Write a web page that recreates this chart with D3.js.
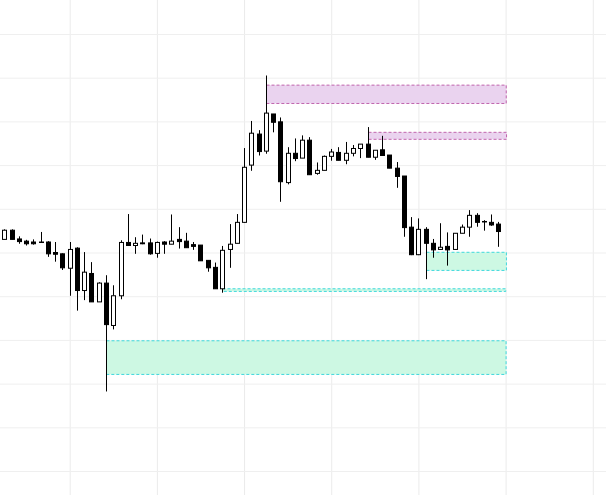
<!DOCTYPE html>
<html>
<head>
<meta charset="utf-8">
<script src="https://cdn.jsdelivr.net/npm/d3@7"></script>
<style>
  html, body { margin: 0; padding: 0; background: #fff; }
  svg { display: block; }
</style>
</head>
<body>
<div id="app"></div>
<script>
// ----- Data -----
const startTime = "2024-03-04T15:00:00Z";   // first candle, hourly bars
const opens  = [103.0,105.1,103.1,102.6,102.4,102.3,102.4,100.0,99.7,96.4,101.0,91.3,95.2,88.7,93.0,83.3,90.1,102.3,101.6,102.2,
                102.2,99.8,102.4,101.9,103.0,102.6,101.8,101.7,98.2,96.6,91.7,100.7,102.1,106.9,120.0,127.1,123.2,131.7,129.9,116.0,
                122.7,121.6,125.7,118.1,118.8,122.0,122.9,121.1,122.7,123.8,124.8,121.8,123.5,122.3,119.3,117.5,105.8,99.5,105.3,102.1,
                100.7,101.4,100.7,104.4,105.8,108.5,107.1,106.9,106.5];
const highs  = [105.3,105.3,103.7,102.9,103.0,104.7,102.6,102.4,99.8,102.4,101.2,100.1,97.8,93.2,94.8,92.5,102.8,108.8,103.5,104.1,
                103.2,102.5,102.6,108.7,105.8,104.5,102.4,101.7,98.2,97.7,101.5,106.5,108.8,123.9,130.1,128.0,140.5,131.7,130.9,124.1,
                126.1,126.8,126.4,120.6,122.2,123.7,124.1,125.3,124.6,124.8,128.7,123.4,126.7,122.3,120.7,117.5,108.1,107.8,105.8,103.1,
                106.7,104.6,104.4,106.4,109.7,109.0,107.4,108.7,107.0];
const lows   = [103.0,103.0,102.0,101.6,101.8,102.3,99.0,97.9,96.0,90.1,86.7,89.1,88.7,88.7,68.2,82.4,89.3,101.6,99.7,101.9,
                99.5,98.8,99.7,101.9,100.9,101.1,100.6,98.1,95.6,91.7,90.8,96.5,102.1,106.8,118.7,122.2,122.6,127.5,111.6,115.6,
                120.9,121.6,117.8,117.8,118.8,121.0,121.1,120.2,122.0,121.6,121.8,121.2,122.2,119.3,114.8,103.6,99.4,99.4,93.9,98.8,
                100.6,97.0,100.7,104.4,103.6,105.9,105.0,106.1,101.3];
const closes = [105.1,103.0,102.5,102.0,102.0,102.4,99.7,99.6,96.5,100.7,91.3,95.5,88.7,93.0,83.5,90.1,102.3,101.6,102.1,102.0,
                99.7,102.3,101.9,102.6,102.5,101.1,101.4,98.1,96.5,91.7,100.5,101.9,106.9,119.5,127.3,123.1,131.9,129.8,116.2,122.7,
                121.5,125.7,117.8,118.8,122.0,123.0,121.1,122.7,123.8,124.8,121.8,123.4,122.2,119.3,117.4,105.7,99.5,105.3,102.1,100.6,
                101.2,100.6,104.4,105.8,108.5,106.9,107.1,106.3,104.8];

// supply / demand zones, extended to bar 69
const zoneStart  = [36, 50, 14, 58, 30];
const zoneEnd    = [69, 69, 69, 69, 69];
const zoneTop    = [138.3, 127.5, 79.8, 100.05, 91.7];
const zoneBottom = [134.1, 125.9, 72.1, 95.9, 91.1];
const zoneKind   = ["supply", "supply", "demand", "demand", "demand"];

// ----- Main program -----
const W = 606, H = 495;
const hour = 3600 * 1000;
const t0 = new Date(startTime).getTime();
const barTime = i => new Date(t0 + i * hour);

const bars = opens.map((o, i) => ({
    time: barTime(i), open: o, high: highs[i], low: lows[i], close: closes[i]
}));
const zones = zoneStart.map((s, i) => ({
    from: barTime(s), to: barTime(zoneEnd[i]), top: zoneTop[i], bottom: zoneBottom[i], kind: zoneKind[i]
}));

const svg = d3.select("#app").append("svg")
    .attr("width", W)
    .attr("height", H);

// visible range: a little space left of bar 0, empty space right of last bar
const xScale = d3.scaleUtc()
    .domain([new Date(t0 - 0.592 * hour), new Date(t0 + 82.82 * hour)])
    .range([0, W]);
const yScale = d3.scaleLinear()
    .domain([44.51, 157.78])
    .range([H, 0]);

// grid
const grid = svg.append("g").attr("class", "grid");
grid.append("g")
    .call(d3.axisBottom(xScale).ticks(d3.utcHour.every(12)).tickSize(H).tickFormat(""))
    .call(g => g.select(".domain").remove())
    .call(g => g.selectAll("line").attr("stroke", "#ebebeb"));
grid.append("g")
    .call(d3.axisRight(yScale).ticks(10).tickSize(W).tickFormat(""))
    .call(g => g.select(".domain").remove())
    .call(g => g.selectAll("line").attr("stroke", "#efefef"));

// zones
const zoneColors = {
    supply: { fill: "#ead3ef", stroke: "#c064ad" },
    demand: { fill: "#cdf8e3", stroke: "#3ed8dc" }
};
svg.append("g").selectAll("rect")
    .data(zones)
    .enter()
    .append("rect")
        .attr("x", d => Math.round(xScale(d.from)) + 0.5)
        .attr("y", d => yScale(d.top))
        .attr("width", d => xScale(d.to) - xScale(d.from))
        .attr("height", d => Math.max(1.5, yScale(d.bottom) - yScale(d.top)))
        .attr("fill", d => zoneColors[d.kind].fill)
        .attr("stroke", d => zoneColors[d.kind].stroke)
        .attr("stroke-width", 1)
        .attr("stroke-dasharray", "3,2");

// candles
const candle = svg.append("g").selectAll("g")
    .data(bars)
    .enter()
    .append("g")
        .attr("transform", d => `translate(${Math.round(xScale(d.time))}, 0)`);

candle.append("line")
    .attr("x1", 0.5).attr("x2", 0.5)
    .attr("y1", d => yScale(d.high))
    .attr("y2", d => yScale(d.low))
    .attr("stroke", "#000")
    .attr("stroke-width", 1);

candle.append("rect")
    .attr("x", -1.5)
    .attr("width", 4)
    .attr("y", d => yScale(Math.max(d.open, d.close)))
    .attr("height", d => Math.max(0.5, Math.abs(yScale(d.open) - yScale(d.close))))
    .attr("fill", d => d.close > d.open ? "#fff" : "#000")
    .attr("stroke", "#000")
    .attr("stroke-width", 1);
</script>
</body>
</html>
